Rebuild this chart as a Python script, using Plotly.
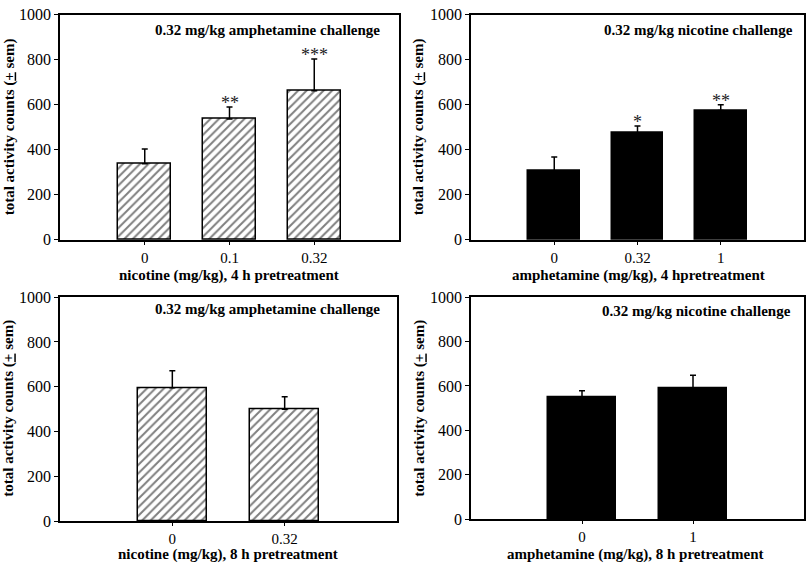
import plotly.graph_objects as go

# ---- data ----
p1_cats = ["0", "0.1", "0.32"]
p1_vals = [338, 537, 662]
p1_err = [66, 53, 142]
p1_stars = ["", "**", "***"]

p2_cats = ["0", "0.32", "1"]
p2_vals = [305, 476, 575]
p2_err = [63, 30, 25]
p2_stars = ["", "*", "**"]

p3_cats = ["0", "0.32"]
p3_vals = [596, 500]
p3_err = [75, 56]

p4_cats = ["0", "1"]
p4_vals = [550, 592]
p4_err = [29, 56]

titles = ["0.32 mg/kg amphetamine challenge", "0.32 mg/kg nicotine challenge",
          "0.32 mg/kg amphetamine challenge", "0.32 mg/kg nicotine challenge"]
xtitles = ["nicotine (mg/kg), 4 h pretreatment", "amphetamine (mg/kg), 4 hpretreatment",
           "nicotine (mg/kg), 8 h pretreatment", "amphetamine (mg/kg), 8 h pretreatment"]
ytitle = "total activity counts (<u>+</u> sem)"
yticks = [0, 200, 400, 600, 800, 1000]

FONT = "Liberation Serif"
W, H = 810, 571

def fx(px):
    return px / W

def fy(py):
    return 1 - py / H

panels = [
    dict(cats=p1_cats, vals=p1_vals, err=p1_err, stars=p1_stars, hatch=True,
         box=(60, 399, 7, 239), width=0.62,
         title_pos=(382, 23), xt_pos=(229, 276), yt_pos=(9, 123)),
    dict(cats=p2_cats, vals=p2_vals, err=p2_err, stars=p2_stars, hatch=False,
         box=(471, 804, 7, 239), width=0.62,
         title_pos=(795, 23), xt_pos=(638, 276), yt_pos=(418, 123)),
    dict(cats=p3_cats, vals=p3_vals, err=p3_err, stars=None, hatch=True,
         box=(60, 397, 298, 529), width=0.61,
         title_pos=(382, 310), xt_pos=(228, 563), yt_pos=(9, 413)),
    dict(cats=p4_cats, vals=p4_vals, err=p4_err, stars=None, hatch=False,
         box=(471, 804, 298, 527), width=0.61,
         title_pos=(793, 312), xt_pos=(635, 563), yt_pos=(420, 413)),
]

fig = go.Figure()
annotations = []
for i, p in enumerate(panels):
    n = i + 1
    xa = "x" if n == 1 else f"x{n}"
    ya = "y" if n == 1 else f"y{n}"
    xpos = list(range(1, len(p["cats"]) + 1))
    if p["hatch"]:
        marker = dict(color="white", line=dict(color="black", width=1.5),
                      pattern=dict(shape="/", fgcolor="black", bgcolor="white",
                                   size=6, solidity=0.33))
    else:
        marker = dict(color="black", line=dict(color="black", width=1.5))
    fig.add_trace(go.Bar(
        x=xpos, y=p["vals"], width=p["width"], marker=marker,
        error_y=dict(type="data", array=p["err"], arrayminus=[0] * len(p["err"]),
                     symmetric=False, color="black", thickness=1.5, width=3),
        xaxis=xa, yaxis=ya, showlegend=False, hoverinfo="skip"))
    if p["stars"]:
        for xv, v, e, s in zip(xpos, p["vals"], p["err"], p["stars"]):
            if s:
                annotations.append(dict(x=xv, y=v + e, xref=xa, yref=ya, text=s,
                                        showarrow=False, yanchor="middle", yshift=4,
                                        font=dict(family=FONT, size=18, color="#222")))
    x0, x1, y0, y1 = p["box"]
    tx, ty = p["title_pos"]
    annotations.append(dict(x=fx(tx), y=fy(ty), xref="paper", yref="paper",
                            text=f"<b>{titles[i]}</b>", showarrow=False,
                            xanchor="right", yanchor="middle",
                            font=dict(family=FONT, size=15, color="black")))
    xx, xy = p["xt_pos"]
    annotations.append(dict(x=fx(xx), y=fy(xy), xref="paper", yref="paper",
                            text=f"<b>{xtitles[i]}</b>", showarrow=False,
                            xanchor="center", yanchor="middle",
                            font=dict(family=FONT, size=15, color="black")))
    yx, yy = p["yt_pos"]
    annotations.append(dict(x=fx(yx), y=fy(yy), xref="paper", yref="paper",
                            text=f"<b>{ytitle}</b>", showarrow=False, textangle=-90,
                            xanchor="center", yanchor="middle",
                            font=dict(family=FONT, size=15, color="black")))
    axkey_x = "xaxis" if n == 1 else f"xaxis{n}"
    axkey_y = "yaxis" if n == 1 else f"yaxis{n}"
    fig.update_layout(**{
        axkey_x: dict(domain=[fx(x0), fx(x1)], anchor=ya, range=[0, len(p["cats"]) + 1],
                      tickmode="array", tickvals=xpos, ticktext=p["cats"],
                      ticks="outside", ticklen=3, tickwidth=1.2, tickcolor="black",
                      showline=True, linecolor="black", linewidth=1.5, mirror=True,
                      showgrid=False, zeroline=False,
                      tickfont=dict(family=FONT, size=15, color="black")),
        axkey_y: dict(domain=[fy(y1), fy(y0)], anchor=xa, range=[0, 1000],
                      tickmode="array", tickvals=yticks,
                      ticks="outside", ticklen=4, tickwidth=1.2, tickcolor="black",
                      showline=True, linecolor="black", linewidth=1.5, mirror=True,
                      showgrid=False, zeroline=False,
                      tickfont=dict(family=FONT, size=16, color="black")),
    })

fig.update_layout(width=W, height=H, margin=dict(l=0, r=0, t=0, b=0),
                  paper_bgcolor="white", plot_bgcolor="white",
                  annotations=annotations, bargap=0)
fig.write_html("out.html", config={"displayModeBar": False},
               post_script="document.body.style.margin='0px';")
